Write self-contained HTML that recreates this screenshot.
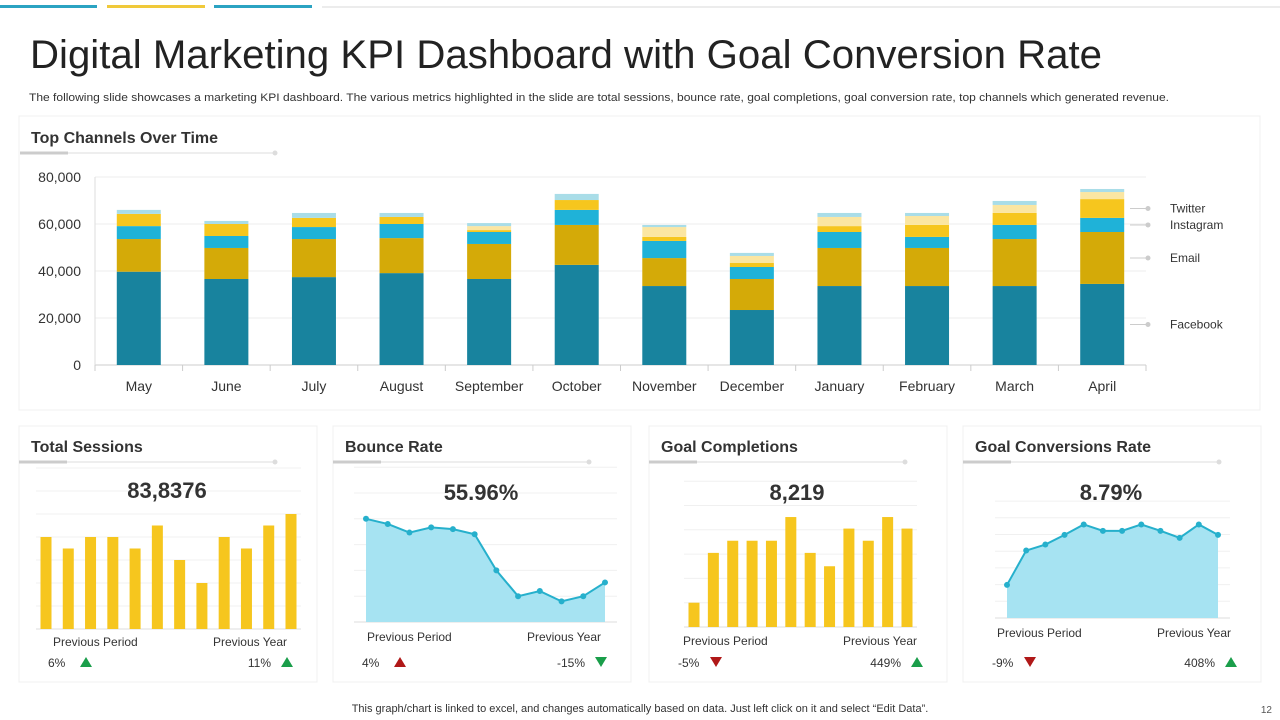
<!DOCTYPE html>
<html><head><meta charset="utf-8">
<style>
html,body{margin:0;padding:0;background:#fff;width:1280px;height:720px;overflow:hidden;font-family:"Liberation Sans",sans-serif;}
svg text{font-family:"Liberation Sans",sans-serif;}
</style></head>
<body>
<svg id="s" width="1280" height="720" viewBox="0 0 1280 720" xmlns="http://www.w3.org/2000/svg">
  <g>
    <rect x="0" y="5" width="97" height="3" fill="#2ba3c2"/>
    <rect x="107" y="5" width="98" height="3" fill="#f0c93a"/>
    <rect x="214" y="5" width="98" height="3" fill="#2ba3c2"/>
    <rect x="322" y="6" width="958" height="2" fill="#ececec"/>
  </g>
  <text x="30" y="68" font-size="40" fill="#222" textLength="1072" lengthAdjust="spacingAndGlyphs">Digital Marketing KPI Dashboard with Goal Conversion Rate</text>
  <text x="29" y="101" font-size="11" fill="#333" textLength="1140" lengthAdjust="spacingAndGlyphs">The following slide showcases a marketing KPI dashboard. The various metrics highlighted in the slide are total sessions, bounce rate, goal completions, goal conversion rate, top channels which generated revenue.</text>

  <rect x="19" y="116" width="1241" height="294" fill="#fff" stroke="#f0f0f0"/>
  <text x="31" y="143" font-size="16" font-weight="bold" fill="#333">Top Channels Over Time</text>
  <g>
    <line x1="20" y1="153" x2="275" y2="153" stroke="#ddd" stroke-width="1"/>
    <line x1="20" y1="153" x2="68" y2="153" stroke="#ccc" stroke-width="3"/>
    <circle cx="275" cy="153" r="2.5" fill="#ddd"/>
  </g>
  <g id="main"></g>

  <g id="cards"></g>

  <text x="640" y="712" font-size="11" fill="#333" text-anchor="middle">This graph/chart is linked to excel,  and changes automatically based on data. Just left click on it and select “Edit Data”.</text>
  <text x="1272" y="713" font-size="10" fill="#555" text-anchor="end">12</text>
</svg>
<script>
const months = ["May","June","July","August","September","October","November","December","January","February","March","April"];
const facebook = [39.7,36.6,37.4,39.1,36.6,42.6,33.6,23.4,33.6,33.6,33.6,34.5];
const email = [13.9,13.2,16.2,14.9,14.9,17.0,11.9,13.2,16.2,16.2,20.0,22.1];
const instagram = [5.5,5.1,5.1,6.0,5.1,6.4,7.3,5.1,6.8,4.7,6.0,6.0];
const twitter = [5.2,5.1,3.9,3.0,0.8,4.2,1.7,1.7,2.5,5.1,5.1,8.0];
const otherA = [0,0,0,0,1.7,0,4.2,3.0,3.9,3.8,3.4,3.0];
const otherB = [1.7,1.3,2.1,1.7,1.3,2.6,0.9,1.3,1.7,1.3,1.7,1.3];
const yTicks = [0,20000,40000,60000,80000];
const yTickLabels = ["0","20,000","40,000","60,000","80,000"];

const sessions = [40,35,40,40,35,45,30,20,40,35,45,50];
const bounce = [60,57,52,55,54,51,30,15,18,12,15,23];
const completions = [200,610,710,710,710,905,610,500,810,710,905,810];
const conversion = [1.98,4.04,4.4,4.98,5.6,5.22,5.22,5.6,5.22,4.8,5.6,4.98];

const NS="http://www.w3.org/2000/svg";
function mk(tag, attrs, parent){const e=document.createElementNS(NS,tag);for(const k in attrs)e.setAttribute(k,attrs[k]);parent.appendChild(e);return e;}

// ---- main chart
const main=document.getElementById('main');
const X0=95,X1=1146,Y0=365,Y1=177,YMAX=80000;
const yS=v=>Y0-(v/YMAX)*(Y0-Y1);
const band=(X1-X0)/months.length;
const xC=i=>X0+band*(i+0.5);
yTicks.forEach((t,i)=>{
  const g=mk('line',{x1:X0,x2:X1,y1:yS(t),y2:yS(t),stroke:i==0?'#ccc':'#eee','stroke-width':1},main);
  
  
  const tx=mk('text',{x:81,y:yS(t)+5,'font-size':14,fill:'#333','text-anchor':'end'},main);
  tx.textContent=yTickLabels[i];
  
  
});
mk('line',{x1:X0,x2:X0,y1:Y1,y2:Y0+6,stroke:'#ddd'},main);
for(let i=0;i<=months.length;i++){mk('line',{x1:X0+band*i,x2:X0+band*i,y1:Y0,y2:Y0+6,stroke:'#ccc'},main);}
const series=[["facebook",facebook,"#18839e"],["email",email,"#d4aa08"],["instagram",instagram,"#1fb2d8"],["twitter",twitter,"#f6c61e"],["other-a",otherA,"#fbe6a2"],["other-b",otherB,"#a9dde8"]];
const bw=44;
months.forEach((m,i)=>{
  let acc=0;
  series.forEach(([nm,arr,col])=>{
    const v=arr[i]*1000;
    if(v>0){
      const r=mk('rect',{x:xC(i)-bw/2,y:yS(acc+v),width:bw,height:yS(acc)-yS(acc+v),fill:col},main);
      
      
    }
    acc+=v;
  });
  const t=mk('text',{x:xC(i),y:391,'font-size':14,fill:'#333','text-anchor':'middle'},main);
  t.textContent=m;
  
  
});
// legend labels at last bar segment midpoints
const legendNames=["Facebook","Email","Instagram","Twitter"];
let acc=0;const li=months.length-1;
legendNames.forEach((n,k)=>{
  const v=series[k][1][li]*1000;
  const y=yS(acc+v/2);acc+=v;
  const g=mk('g',{},main);
  
  
  mk('line',{x1:1130,x2:1148,y1:y,y2:y,stroke:'#ccc'},g);
  mk('circle',{cx:1148,cy:y,r:2.5,fill:'#ccc'},g);
  const t=mk('text',{x:1170,y:y+4,'font-size':12,fill:'#333'},g);
  t.textContent=n;
});

// ---- small cards
const cards=document.getElementById('cards');
const cardDefs=[
 {x:19,name:"total-sessions",title:"Total Sessions",val:"83,8376",type:"bar",data:sessions,max:60,base:629,grid:23,x0:46,x1:291,pp:"6%",ppUp:true,ppCol:"#1a9e4a",py:"11%",pyUp:true,pyCol:"#1a9e4a",labY:646,pctY:667,valY:498},
 {x:333,name:"bounce-rate",title:"Bounce Rate",val:"55.96%",type:"area",data:bounce,max:75,base:622,grid:25.8,x0:366,x1:605,pp:"4%",ppUp:true,ppCol:"#b01818",py:"-15%",pyUp:false,pyCol:"#1a9e4a",labY:641,pctY:667,valY:500},
 {x:649,name:"goal-completions",title:"Goal Completions",val:"8,219",type:"bar",data:completions,max:1000,base:627,grid:24.3,x0:694,x1:907,pp:"-5%",ppUp:false,ppCol:"#b01818",py:"449%",pyUp:true,pyCol:"#1a9e4a",labY:645,pctY:667,valY:500},
 {x:963,name:"goal-conversions-rate",title:"Goal Conversions Rate",val:"8.79%",type:"area",data:conversion,max:6,base:618,grid:16.7,x0:1007,x1:1218,pp:"-9%",ppUp:false,ppCol:"#b01818",py:"408%",pyUp:true,pyCol:"#1a9e4a",labY:637,pctY:667,valY:500}
];
cardDefs.forEach(c=>{
  const g=mk('g',{},cards);
  
  
  mk('rect',{x:c.x,y:426,width:298,height:256,fill:'#fff',stroke:'#f0f0f0'},g);
  const tt=mk('text',{x:c.x+12,y:452,'font-size':16,'font-weight':'bold',fill:'#333'},g);
  tt.textContent=c.title;
  
  
  mk('line',{x1:c.x,x2:c.x+256,y1:462,y2:462,stroke:'#ddd'},g);
  mk('line',{x1:c.x,x2:c.x+48,y1:462,y2:462,stroke:'#ccc','stroke-width':3},g);
  mk('circle',{cx:c.x+256,cy:462,r:2.5,fill:'#ddd'},g);
  const n=c.data.length;
  const top=c.base-c.grid*((c.type=="bar"&&c.max==60)?6:(c.max==75?5:(c.max==1000?5:6)));
  const steps=Math.round((c.base-top)/c.grid);
  const gx0=c.x0-(c.type=="bar"?10:12), gx1=c.x1+(c.type=="bar"?10:12);
  for(let k=0;k<=steps+1;k++){const y=c.base-k*c.grid;mk('line',{x1:gx0,x2:gx1,y1:y,y2:y,stroke:k==0?'#ddd':'#f0f0f0'},g);}
  const yv=v=>c.base-(v/c.max)*(steps*c.grid);
  const xv=i=>c.x0+(c.x1-c.x0)*i/(n-1);
  if(c.type=="bar"){
    c.data.forEach((v,i)=>{
      const r=mk('rect',{x:xv(i)-5.5,y:yv(v),width:11,height:c.base-yv(v),fill:'#f6c61e'},g);
      
      
    });
  } else {
    let d='M'+xv(0)+','+c.base;
    c.data.forEach((v,i)=>{d+=' L'+xv(i)+','+yv(v);});
    d+=' L'+xv(n-1)+','+c.base+' Z';
    const a=mk('path',{d:d,fill:'#a6e3f2'},g);
    
    
    const pts=c.data.map((v,i)=>xv(i)+','+yv(v)).join(' ');
    const l=mk('polyline',{points:pts,fill:'none',stroke:'#26b0cc','stroke-width':2},g);
    
    
    c.data.forEach((v,i)=>{
      const p=mk('circle',{cx:xv(i),cy:yv(v),r:3,fill:'#26b0cc'},g);
      
      
    });
  }
  const val=mk('text',{x:c.x+148,y:c.valY,'font-size':22,'font-weight':'bold',fill:'#333','text-anchor':'middle'},g);
  val.textContent=c.val;
  
  
  const l1=mk('text',{x:c.x+34,y:c.labY,'font-size':12,fill:'#333'},g);
  l1.textContent="Previous Period";
  
  
  const l2=mk('text',{x:c.x+268,y:c.labY,'font-size':12,fill:'#333','text-anchor':'end'},g);
  l2.textContent="Previous Year";
  
  
  const p1=mk('text',{x:c.x+29,y:c.pctY,'font-size':12,fill:'#333'},g);
  p1.textContent=c.pp;
  
  
  const p2=mk('text',{x:c.x+252,y:c.pctY,'font-size':12,fill:'#333','text-anchor':'end'},g);
  p2.textContent=c.py;
  
  
  const tri=(cx,up,col,nm)=>{const cy=c.pctY-5;const d=up?`M${cx-6},${cy+5} L${cx+6},${cy+5} L${cx},${cy-5} Z`:`M${cx-6},${cy-5} L${cx+6},${cy-5} L${cx},${cy+5} Z`;const t=mk('path',{d:d,fill:col},g);};
  tri(c.x+67,c.ppUp,c.ppCol,'previous-period-arrow');
  tri(c.x+268,c.pyUp,c.pyCol,'previous-year-arrow');
});
</script>
</body></html>
